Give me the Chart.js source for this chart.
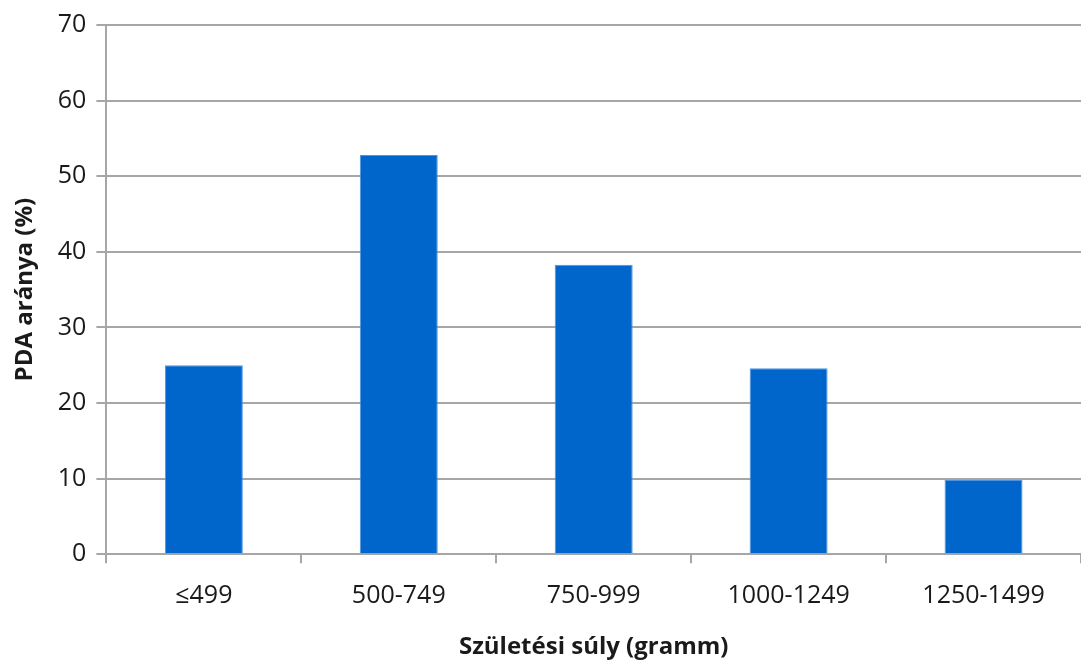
<!DOCTYPE html>
<html>
<head>
<meta charset="utf-8">
<script src="https://cdn.jsdelivr.net/npm/chart.js@4"></script>
<style>
  html, body { margin: 0; padding: 0; background: #fff; }
  #wrap { width: 1081px; height: 664px; }
</style>
</head>
<body>
<div id="wrap"><canvas id="c" width="1081" height="664"></canvas></div>
<script>
// PDA rate by birth weight group
const categories = ['≤499', '500-749', '750-999', '1000-1249', '1250-1499'];
const pdaRate = [25.0, 52.8, 38.3, 24.6, 9.8];
const yTicks = [0, 10, 20, 30, 40, 50, 60, 70];

const FONT = "'Open Sans', 'Liberation Sans', sans-serif";
const GRID = '#a6a6a6';
const TEXT = '#1a1a1a';

new Chart(document.getElementById('c'), {
  type: 'bar',
  data: {
    labels: categories,
    datasets: [{
      label: 'PDA aránya (%)',
      data: pdaRate,
      backgroundColor: '#0066cc',
      borderColor: '#4d94e0',
      borderWidth: 1,
      categoryPercentage: 0.4,
      barPercentage: 1.0
    }]
  },
  options: {
    responsive: false,
    animation: false,
    layout: { padding: { top: -3, right: 0, left: 11, bottom: 0 } },
    plugins: {
      legend: { display: false },
      tooltip: { enabled: false }
    },
    scales: {
      x: {
        offset: true,
        grid: {
          offset: true,
          drawOnChartArea: false,
          color: GRID,
          lineWidth: 2,
          tickLength: 9
        },
        border: { color: GRID, width: 2 },
        ticks: {
          color: TEXT,
          font: { family: FONT, size: 25 },
          padding: 18
        },
        title: {
          display: true,
          text: 'Születési súly (gramm)',
          color: TEXT,
          font: { family: FONT, size: 24, weight: 'bold' },
          padding: { top: 4, bottom: 2 }
        }
      },
      y: {
        min: 0,
        max: 70,
        afterBuildTicks: (axis) => { axis.ticks = yTicks.map((v) => ({ value: v })); },
        grid: {
          color: GRID,
          lineWidth: 2,
          tickLength: 10
        },
        border: { color: GRID, width: 2 },
        ticks: {
          color: TEXT,
          font: { family: FONT, size: 25 },
          padding: 10
        },
        title: {
          display: true,
          text: 'PDA aránya (%)',
          color: TEXT,
          font: { family: FONT, size: 24, weight: 'bold' },
          padding: { top: 0, bottom: 8 }
        }
      }
    }
  }
});
</script>
</body>
</html>
